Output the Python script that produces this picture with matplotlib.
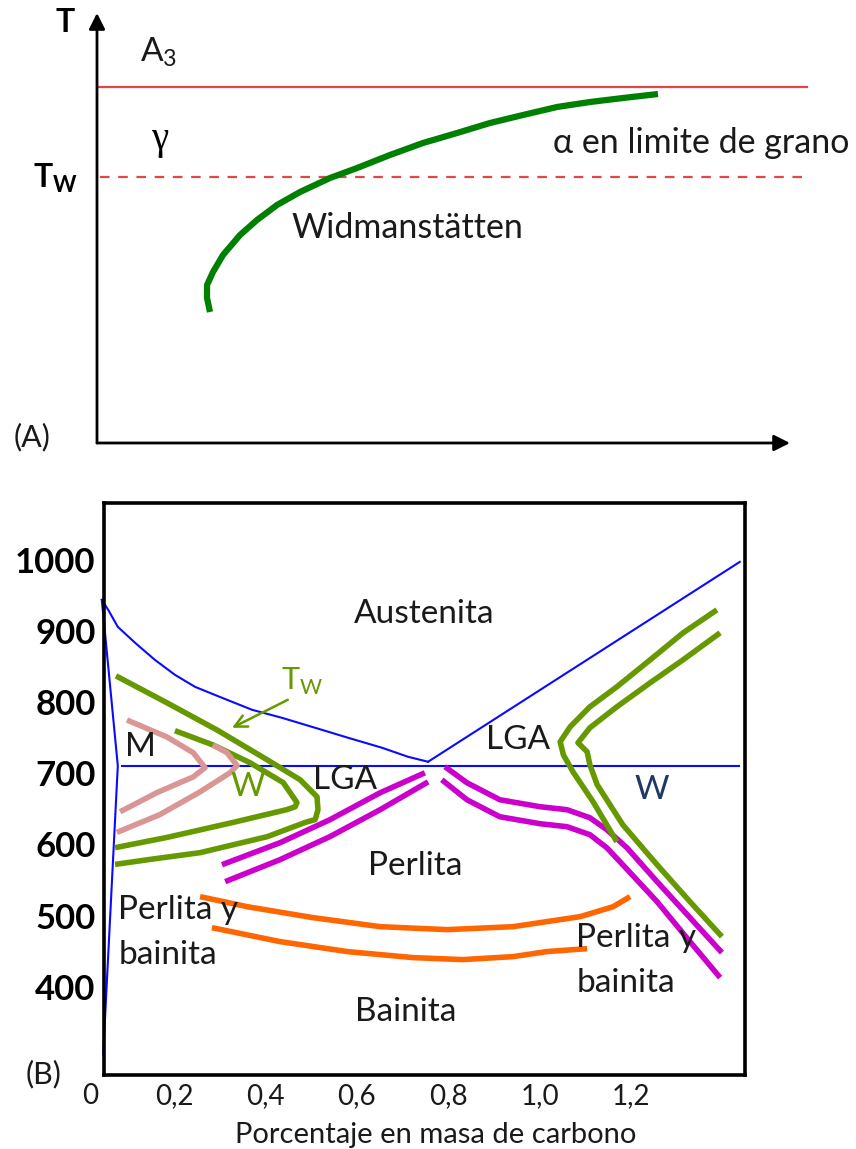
import matplotlib
matplotlib.use('Agg')
import matplotlib.pyplot as plt
from matplotlib.transforms import offset_copy

plt.rcParams['font.family'] = ['Lato', 'DejaVu Sans']

# ---- panel A data (schematic, arbitrary units 0..100) ----
widm_x = [15.85, 15.43, 15.43, 16.27, 17.67, 20.06, 22.44, 25.25, 28.47, 32.68,
          36.47, 41.09, 45.72, 50.49, 55.12, 59.75, 64.52, 69.14, 73.77, 78.68]
widm_y = [30.47, 33.72, 36.74, 39.77, 43.72, 48.37, 51.86, 55.35, 58.37, 61.63,
          63.95, 66.98, 69.77, 72.09, 74.42, 76.28, 78.14, 79.30, 80.23, 81.16]
a3_level = 82.8
a3_x = [0, 99.6]
tw_level = 61.9
tw_x = [0.4, 100]

# ---- panel B data (wt% C, temperature) ----
a3_c = [0.042, 0.056, 0.077, 0.115, 0.158, 0.202, 0.246, 0.305, 0.371, 0.436,
        0.509, 0.581, 0.655, 0.712, 0.756]
a3_t = [943.8, 929.8, 905.9, 883.4, 859.6, 838.5, 821.6, 806.2, 789.3, 778.1,
        764.0, 750.0, 736.0, 723.3, 716.3]
acm_c = [0.756, 1.438]
acm_t = [716.3, 997.2]
a1_c = [0.086, 1.436]
a1_t = [710.7, 710.7]
ferr_c = [0.042, 0.077, 0.045]
ferr_t = [943.8, 710.7, 304.8]

gw_out_c = [0.073, 0.185, 0.294, 0.404, 0.476, 0.513, 0.515, 0.509, 0.487, 0.404, 0.257, 0.147, 0.071]
gw_out_t = [837, 799, 761, 719, 691, 667, 649, 635, 631, 611, 588.5, 579, 572]
gw_in_c = [0.202, 0.285, 0.366, 0.439, 0.469, 0.465, 0.447, 0.329, 0.185, 0.071]
gw_in_t = [760, 740, 715, 687, 659, 653, 649, 631, 610, 595.5]

mart_out_c = [0.097, 0.185, 0.242, 0.268, 0.242, 0.163, 0.082]
mart_out_t = [775, 751, 729, 708, 695, 673, 646]
mart_in_c = [0.285, 0.316, 0.338, 0.323, 0.257, 0.169, 0.075]
mart_in_t = [740, 729, 711, 701, 674, 642, 617]

perl_l1_c = [0.305, 0.432, 0.541, 0.651, 0.749]
perl_l1_t = [571.6, 602.5, 634.8, 672.7, 700.8]
perl_l2_c = [0.312, 0.432, 0.541, 0.651, 0.756]
perl_l2_t = [547.8, 578.7, 611, 648.9, 688]
perl_r1_c = [0.793, 0.841, 0.913, 1.001, 1.060, 1.110, 1.147, 1.191, 1.257, 1.329, 1.399]
perl_r1_t = [709.3, 686.8, 662.9, 653.1, 648.9, 637.6, 620.8, 595.5, 547.8, 497.2, 448.0]
perl_r2_c = [0.786, 0.841, 0.913, 1.001, 1.060, 1.110, 1.147, 1.182, 1.257, 1.329, 1.395]
perl_r2_t = [691.0, 662.9, 639.0, 629.2, 625.0, 613.8, 595.5, 571.6, 519.7, 463.5, 412.9]

gw_r1_c = [1.388, 1.314, 1.242, 1.169, 1.110, 1.067, 1.045, 1.052, 1.073, 1.117, 1.169]
gw_r1_t = [929.8, 897.5, 859.6, 821.6, 793.5, 765.5, 744.4, 726.1, 702.2, 660.1, 603.9]
gw_r2_c = [1.395, 1.314, 1.242, 1.169, 1.110, 1.084, 1.104, 1.110, 1.126, 1.182, 1.257, 1.329, 1.399]
gw_r2_t = [897.5, 859.6, 827.3, 793.5, 764.0, 743.0, 730.3, 712.1, 684.0, 627.8, 571.6, 519.7, 470.5]

bain_1_c = [0.257, 0.360, 0.504, 0.651, 0.798, 0.942, 1.089, 1.161, 1.198]
bain_1_t = [526.7, 512.6, 497.2, 484.5, 480.3, 484.5, 498.6, 512.6, 526.7]
bain_2_c = [0.283, 0.432, 0.579, 0.723, 0.832, 0.942, 1.016, 1.104]
bain_2_t = [483.1, 463.5, 449.5, 441, 438.2, 442.4, 449.5, 453.6]

temp_ticks = [400, 500, 600, 700, 800, 900, 1000]
carbon_ticks = [0.2, 0.4, 0.6, 0.8, 1.0, 1.2]
carbon_labels = ['0,2', '0,4', '0,6', '0,8', '1,0', '1,2']

GREEN = '#669900'
BLUE = '#0a0aff'
INK = '#1a1a1a'

fig = plt.figure(figsize=(8.56, 11.49), dpi=100)

# ---------------- panel A ----------------
axA = fig.add_axes([97 / 856, 1 - 443 / 1149, 713 / 856, 430 / 1149])
axA.set_xlim(0, 100)
axA.set_ylim(0, 100)
axA.axis('off')

arrow = dict(arrowstyle='-|>', color='black', lw=2, mutation_scale=24, shrinkA=0, shrinkB=0)
axA.annotate('', xy=(97.2, 0), xytext=(0, 0), arrowprops=arrow)
axA.annotate('', xy=(0, 100), xytext=(0, 0), arrowprops=arrow)

axA.plot(a3_x, [a3_level] * 2, color='#e04848', lw=1.6)
axA.plot(tw_x, [tw_level] * 2, color='#e04848', lw=1.6, dashes=(4.3, 3.9))
axA.plot(widm_x, widm_y, color='#008000', lw=4.5, solid_capstyle='butt', solid_joinstyle='round')

axA.text(8.6, 90.9, r'A$_\mathregular{3}$', fontsize=24, ha='center', va='center', color=INK)
axA.text(8.8, 70.5, 'γ', fontsize=28, family='Liberation Serif', ha='center', va='center')
axA.text(64, 69.8, 'α en limite de grano', fontsize=24.5, ha='left', va='center',
         family=['Lato', 'Liberation Serif'], color=INK)
axA.text(27.3, 50, 'Widmanstätten', fontsize=24.5, ha='left', va='center', color=INK)

fig.text(65 / 856, 1 - 22 / 1149, 'T', fontsize=23, fontweight='bold', ha='center', va='center')
fig.text(55 / 856, 1 - 178 / 1149, r'T$_\mathregular{W}$', fontsize=23, fontweight='bold',
         ha='center', va='center')
fig.text(32 / 856, 1 - 437 / 1149, '(A)', fontsize=22, ha='center', va='center', color=INK)

# ---------------- panel B ----------------
axB = fig.add_axes([104 / 856, 1 - 1075 / 1149, 641 / 856, 572 / 1149])
axB.set_xlim(0.0468, 1.4495)
axB.set_ylim(276, 1080)
for s in axB.spines.values():
    s.set_linewidth(2.6)

axB.plot(a3_c, a3_t, color=BLUE, lw=1.5, clip_on=False)
axB.plot(acm_c, acm_t, color=BLUE, lw=1.5)
axB.plot(a1_c, a1_t, color=BLUE, lw=1.5)
axB.plot(ferr_c, ferr_t, color=BLUE, lw=1.5, clip_on=False)

thick = dict(lw=4, solid_capstyle='butt', solid_joinstyle='round')
axB.plot(gw_out_c, gw_out_t, color=GREEN, **thick)
axB.plot(gw_in_c, gw_in_t, color=GREEN, **thick)
axB.plot(mart_out_c, mart_out_t, color='#d99694', **thick)
axB.plot(mart_in_c, mart_in_t, color='#d99694', **thick)
axB.plot(perl_l1_c, perl_l1_t, color='#cc00cc', **thick)
axB.plot(perl_l2_c, perl_l2_t, color='#cc00cc', **thick)
axB.plot(perl_r1_c, perl_r1_t, color='#cc00cc', **thick)
axB.plot(perl_r2_c, perl_r2_t, color='#cc00cc', **thick)
axB.plot(gw_r1_c, gw_r1_t, color=GREEN, **thick)
axB.plot(gw_r2_c, gw_r2_t, color=GREEN, **thick)
axB.plot(bain_1_c, bain_1_t, color='#ff6600', **thick)
axB.plot(bain_2_c, bain_2_t, color='#ff6600', **thick)

axB.annotate('', xy=(0.327, 764), xytext=(0.449, 803.4),
             arrowprops=dict(arrowstyle='->', color=GREEN, lw=1.8, mutation_scale=22,
                             shrinkA=0, shrinkB=0))
axB.text(0.435, 828.6, r'T$_\mathregular{W}$', color=GREEN, fontsize=22, ha='left', va='center')

txt = dict(fontsize=24, color=INK, ha='center', va='center')
axB.text(0.747, 924, 'Austenita', **txt)
axB.text(0.126, 737.4, 'M', **txt)
axB.text(0.362, 681, 'W', **{**txt, 'color': GREEN})
axB.text(0.574, 691, 'LGA', **txt)
axB.text(0.953, 747, 'LGA', **txt)
axB.text(1.246, 677, 'W', **{**txt, 'color': '#1f3864'})
axB.text(0.727, 570, 'Perlita', **txt)
axB.text(0.078, 508.4, 'Perlita y', **{**txt, 'ha': 'left'})
axB.text(0.078, 445, 'bainita', **{**txt, 'ha': 'left'})
axB.text(1.08, 469, 'Perlita y', **{**txt, 'ha': 'left'})
axB.text(1.08, 406, 'bainita', **{**txt, 'ha': 'left'})
axB.text(0.706, 365, 'Bainita', **txt)

axB.set_yticks(temp_ticks)
axB.set_yticklabels([str(t) for t in temp_ticks], fontsize=25, fontweight='bold')
axB.set_xticks(carbon_ticks)
axB.set_xticklabels(carbon_labels, fontsize=20, color=INK)
xpad = 6
axB.tick_params(axis='y', length=0, pad=6)
axB.tick_params(axis='x', length=0, pad=xpad)
zero_tr = offset_copy(axB.get_xaxis_transform(), fig=fig, y=-xpad, units='points')
axB.text(0.0, 0, '0', transform=zero_tr, fontsize=20, color=INK,
         ha='left', va='top', clip_on=False)
axB.set_xlabel('Porcentaje en masa de carbono', fontsize=21, color=INK)
axB.xaxis.set_label_coords(0.518, -0.082)
axB.xaxis.label.set_va('top')

fig.text(44 / 856, 1 - 1074 / 1149, '(B)', fontsize=22, ha='center', va='center', color=INK)

fig.savefig('out.png', dpi=100)
